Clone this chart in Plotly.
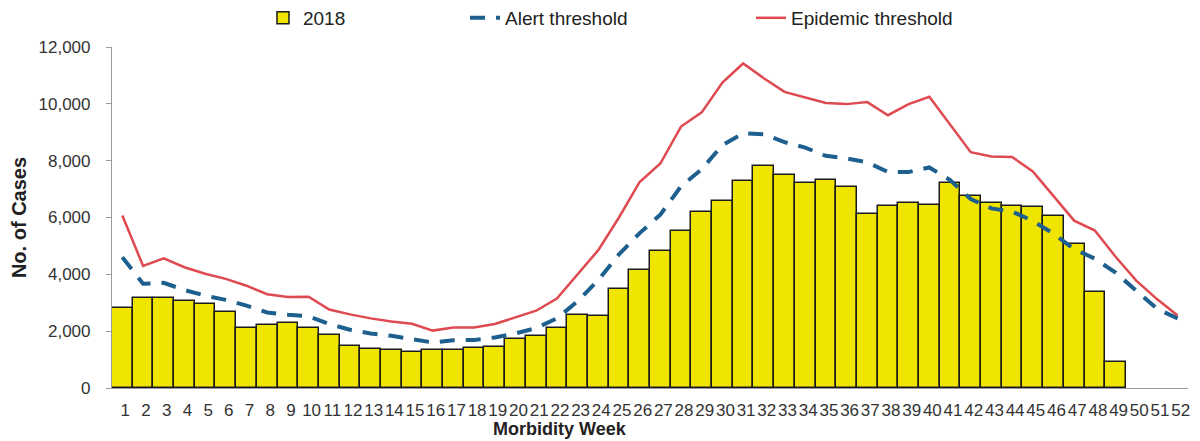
import plotly.graph_objects as go

weeks = list(range(1, 53))
week_labels = [str(w) for w in weeks]

cases_2018 = [2800, 3180, 3180, 3060, 2950, 2670, 2100, 2210, 2280, 2120,
              1880, 1490, 1360, 1340, 1250, 1340, 1340, 1400, 1450, 1720,
              1840, 2100, 2580, 2540, 3500, 4170, 4820, 5530, 6180, 6580,
              7280, 7830, 7480, 7220, 7330, 7070, 6110, 6400, 6520, 6450,
              7220, 6750, 6520, 6400, 6360, 6070, 5070, 3370, 900]

alert_threshold = [4600, 3670, 3700, 3450, 3250, 3100, 2900, 2660, 2580, 2520,
                   2250, 2050, 1920, 1840, 1720, 1600, 1680, 1690, 1780, 1920,
                   2110, 2450, 3050, 3800, 4700, 5450, 6100, 7100, 7700, 8550,
                   8960, 8930, 8650, 8460, 8170, 8080, 7940, 7600, 7600, 7760,
                   7320, 6650, 6320, 6210, 5880, 5430, 4890, 4550, 4060, 3420,
                   2790, 2450]

epidemic_threshold = [6070, 4300, 4560, 4250, 4020, 3840, 3600, 3300, 3200, 3210,
                      2760, 2590, 2450, 2340, 2260, 2020, 2130, 2130, 2250, 2480,
                      2720, 3150, 4000, 4850, 6000, 7250, 7900, 9200, 9700, 10750,
                      11420, 10900, 10420, 10220, 10030, 9990, 10060, 9600, 9990, 10250,
                      9280, 8300, 8150, 8130, 7620, 6740, 5890, 5540, 4620, 3780,
                      3130, 2550]

y_ticks = [0, 2000, 4000, 6000, 8000, 10000, 12000]

fig = go.Figure()

fig.add_trace(go.Bar(
    x=weeks[:len(cases_2018)], y=cases_2018, name="2018",
    marker=dict(color="#F0E500", line=dict(color="#1a1a1a", width=1.5)),
    legend="legend",
))
fig.add_trace(go.Scatter(
    x=weeks, y=alert_threshold, name="Alert threshold", mode="lines",
    line=dict(color="#1D5F8E", width=4, dash="15px,11px"),
    legend="legend2",
))
fig.add_trace(go.Scatter(
    x=weeks, y=epidemic_threshold, name="Epidemic threshold", mode="lines",
    line=dict(color="#DE4A50", width=2.5),
    legend="legend3",
))

font_family = "Liberation Sans, Arial, sans-serif"
legend_common = dict(orientation="h", xref="container", yref="container",
                     yanchor="middle", y=0.977, xanchor="left",
                     font=dict(family=font_family, size=19, color="#222"),
                     bgcolor="rgba(0,0,0,0)")

# The page body has an 8px margin, so the figure is sized to fit the window.
fig.update_layout(
    width=1192, height=433,
    margin=dict(l=104, r=12, t=39, b=53, autoexpand=False),
    paper_bgcolor="white", plot_bgcolor="white",
    bargap=0,
    font=dict(family=font_family, color="#333"),
    showlegend=True,
    legend=dict(x=0.2139, **legend_common),
    legend2=dict(x=0.3834, **legend_common),
    legend3=dict(x=0.6233, **legend_common),
    xaxis=dict(
        range=[0.5, 52.5], tickmode="array", tickvals=weeks, ticktext=week_labels,
        tickangle=0, showgrid=False, zeroline=False, automargin=False,
        showline=True, linecolor="#9a9a9a", linewidth=1.2,
        ticks="", ticklabelstandoff=6, ticklabelshift=3,
        tickfont=dict(size=17, color="#333"),
    ),
    yaxis=dict(
        range=[0, 12000], tickmode="array", tickvals=y_ticks,
        tickformat=",d", showgrid=False, zeroline=False, automargin=False,
        showline=True, linecolor="#9a9a9a", linewidth=1.2,
        ticks="outside", ticklen=5, tickcolor="#9a9a9a",
        ticklabelstandoff=12,
        tickfont=dict(size=17, color="#333"),
        title=dict(text="<b>No. of Cases</b>", standoff=7,
                   font=dict(size=20, color="#222")),
    ),
    annotations=[dict(
        text="<b>Morbidity Week</b>", xref="paper", yref="paper",
        x=0.416, y=-0.12, xanchor="center", yanchor="middle", showarrow=False,
        font=dict(family=font_family, size=18, color="#222"),
    )],
)

fig.write_html("out.html")
